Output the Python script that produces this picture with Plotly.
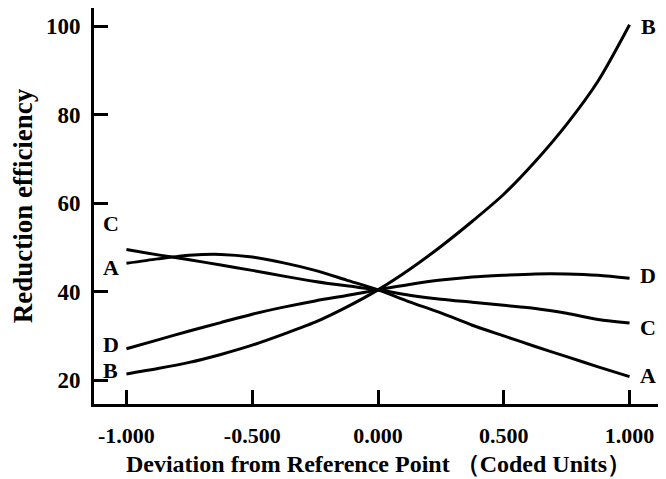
import plotly.graph_objects as go

# coded deviation from reference point
x_coded = [-1.0, -0.875, -0.75, -0.625, -0.5, -0.375, -0.25, -0.125, 0.0,
           0.125, 0.25, 0.375, 0.5, 0.625, 0.75, 0.875, 1.0]

# reduction efficiency
A = [46.4, 47.4, 48.2, 48.4, 47.8, 46.5, 44.8, 42.6, 40.4,
     37.7, 35.2, 32.4, 30.0, 27.6, 25.3, 23.0, 20.8]
B = [21.4, 22.6, 24.0, 25.8, 27.9, 30.4, 33.1, 36.5, 40.4,
     45.0, 50.2, 55.9, 62.0, 69.4, 77.8, 87.6, 100.3]
C = [49.5, 48.3, 47.2, 46.0, 44.8, 43.5, 42.3, 41.3, 40.4,
     39.2, 38.3, 37.6, 36.9, 36.2, 35.1, 33.7, 32.9]
D = [27.1, 29.1, 31.1, 33.0, 34.9, 36.5, 37.9, 39.1, 40.4,
     41.6, 42.6, 43.3, 43.7, 44.0, 44.0, 43.7, 43.0]

# curve labels (name, y at left end, y at right end)
labels = ['A', 'B', 'C', 'D']
label_left_y = [45.4, 22.1, 55.3, 28.0]
label_right_y = [21.0, 100.0, 31.9, 43.6]

x_ticks = [-1.0, -0.5, 0.0, 0.5, 1.0]
x_ticktext = ['-1.000', '-0.500', '0.000', '0.500', '1.000']
y_ticks = [20, 40, 60, 80, 100]

FONT = 'Liberation Serif'

fig = go.Figure()
for name, ys in zip(labels, [A, B, C, D]):
    fig.add_trace(go.Scatter(x=x_coded, y=ys, mode='lines', name=name,
                             line=dict(color='black', width=3, shape='spline', smoothing=0.8)))

for name, yl, yr in zip(labels, label_left_y, label_right_y):
    fig.add_annotation(x=-1.062, y=yl, text=f'<b>{name}</b>', showarrow=False,
                       font=dict(family=FONT, size=22, color='black'))
    fig.add_annotation(x=1.074, y=yr, text=f'<b>{name}</b>', showarrow=False,
                       font=dict(family=FONT, size=22, color='black'))

# page body has an 8px margin, so the figure is a bit smaller than the window
fig.update_layout(width=658, height=471, showlegend=False,
                  paper_bgcolor='white', plot_bgcolor='white',
                  margin=dict(l=86, r=3, t=0, b=75),
                  font=dict(family=FONT, color='black'))

fig.update_xaxes(range=[-1.129, 1.133], tickvals=x_ticks, ticktext=x_ticktext,
                 ticks='inside', ticklen=14, tickwidth=3, tickcolor='black',
                 showline=True, linewidth=3, linecolor='black', mirror=True,
                 showgrid=False, zeroline=False, automargin=False,
                 ticklabelstandoff=10,
                 tickfont=dict(family=FONT, size=22, color='black', weight='bold'),
                 title=dict(text='<b>Deviation from Reference Point （Coded Units）</b>',
                            font=dict(family=FONT, size=24, color='black'), standoff=8))
fig.update_yaxes(range=[14.6, 104.1], tickvals=y_ticks,
                 ticks='inside', ticklen=14, tickwidth=3, tickcolor='black',
                 showline=True, linewidth=3, linecolor='black', mirror=True,
                 showgrid=False, zeroline=False, automargin=False,
                 ticklabelstandoff=6,
                 tickfont=dict(family=FONT, size=23, color='black', weight='bold'),
                 title=dict(text='<b>Reduction efficiency</b>',
                            font=dict(family=FONT, size=27, color='black'), standoff=40))

fig.write_html("out.html")
